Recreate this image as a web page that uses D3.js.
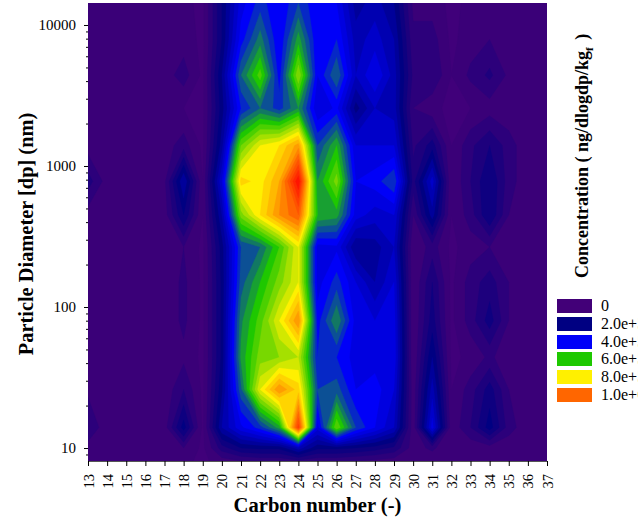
<!DOCTYPE html>
<html>
<head>
<meta charset="utf-8">
<script src="https://cdn.jsdelivr.net/npm/d3@7"></script>
<style>
  html, body { margin: 0; padding: 0; background: #fff; overflow: hidden; }
  text { font-family: "Liberation Serif", serif; fill: #000; }
</style>
</head>
<body>
<div id="viz"></div>
<script>
const carbonNumbers = d3.range(13, 38);
const diameters = [14300, 7900, 4400, 2570, 1400, 780, 450, 266, 150, 80, 44, 26, 14, 10, 8.1];

// concentration in units of 1e5, one row per diameter
const concentration = [
  [.5,.5,.5,.5,.5,.5,.3,2,3.8,4.6,4,4.8,4,4,2.6,3,2.4,.7,.6,.3,.5,.5,.5,.5,.5],
  [.5,.5,.5,.5,.5,.6,.3,2,4.2,5.4,4,5.8,4,4.4,3,3.4,2.8,.9,1,.3,.6,.8,.5,.5,.5],
  [.5,.5,.5,.5,.6,1,.3,2.4,5.2,6.6,4.2,7.2,4,5.2,3.2,4,3,1.1,1.2,.4,.9,1.3,.7,.5,.5],
  [.5,.5,.5,.5,.5,.4,.3,2.2,4.4,5.2,4.6,5.6,3.6,4.1,2.2,3.2,3,.8,.5,.3,.4,.6,.5,.5,.5],
  [.6,.5,.5,.5,.6,1,.3,2.6,6.8,8,8.4,9.4,4.8,6,3.6,3.6,3.6,1.1,1.8,.4,1.1,1.6,1,.5,.5],
  [1.4,.6,.5,.5,.7,2.8,.4,3.6,8.6,8.2,9.2,12,5.6,7,4,4.2,4.8,1.4,3.4,.4,1.2,2,1,.5,.5],
  [.6,.5,.5,.5,.6,2,.4,2.8,7,8.4,9.6,10.4,6,5.8,3.8,3.4,3.6,.8,2.6,.4,1,2,.8,.5,.5],
  [.5,.5,.5,.5,.5,.8,.3,2.2,4.8,5.2,6.4,8,3.8,3.9,2.4,2.6,3.2,.4,1,.3,.6,.8,.5,.5,.5],
  [.5,.5,.5,.5,.5,.9,.3,2.1,5,6,7,8,3.8,4.6,3.6,2.8,3.6,.4,1.6,.3,1,1.4,.8,.5,.5],
  [.5,.5,.5,.5,.5,.9,.3,2.1,5.5,6.6,8,9.6,4.2,5.6,3.8,3.6,3.8,.4,1.8,.3,1,1.8,.8,.5,.5],
  [.5,.5,.5,.5,.5,.7,.3,2.1,5.7,7,7.2,7.6,4.4,4.4,3.8,3.8,3.9,.4,2.4,.3,.5,.9,.5,.5,.5],
  [.7,.5,.5,.5,.5,1.2,.3,2.3,5.1,8,9.6,8.6,4.8,5,4,4.2,3.6,.5,3,.4,1,1.8,.8,.5,.5],
  [1.2,.5,.5,.5,.6,2.2,.3,2.8,3.9,4.6,5.8,11,3.8,6.8,4.8,4,3.2,.5,3.8,.5,1.2,2.2,1,.5,.5],
  [.6,.5,.5,.5,.5,.8,.3,1.4,2,2.1,2.1,3,2.1,2.1,2,1.8,1.5,.6,.9,.4,.5,.6,.5,.5,.5],
  [.5,.5,.5,.5,.5,.5,.3,.6,.8,.9,.9,1.1,.9,.9,.8,.7,.6,.4,.5,.4,.4,.4,.5,.5,.5]
];

const levels = d3.range(0, 12.01, 0.4);
const colorValues = [0, 0.4, 2, 4, 6, 8, 10, 12];
const colorStops = ["#40007a", "#3a0078", "#000082", "#0000f8", "#1ec800", "#fff000", "#ff6600", "#ff0000"];
const legendLabels = ["0", "2.0e+5", "4.0e+5", "6.0e+5", "8.0e+5", "1.0e+6"];
const legendColors = ["#420078", "#000082", "#0000f8", "#1ec800", "#fff000", "#ff6600"];
const legendTops = [299, 317, 335, 352, 370, 388];

const width = 638, height = 518;
const plot = { left: 88, right: 547, top: 3, bottom: 461 };

const svg = d3.select("#viz").append("svg")
  .attr("width", width)
  .attr("height", height)
  .style("display", "block");

const x = d3.scaleLinear().domain([13, 37]).range([plot.left, plot.right]);
const y = d3.scaleLog().domain([8.09, 14320]).range([plot.bottom, plot.top]);
const color = d3.scaleLinear().domain(colorValues).range(colorStops);

// grid index -> log diameter, rows are not quite evenly spaced
const rowLog = d3.scaleLinear().domain(d3.range(diameters.length)).range(diameters.map(d => Math.log10(d)));

svg.append("defs").append("clipPath").attr("id", "plotClip")
  .append("rect")
  .attr("x", plot.left).attr("y", plot.top)
  .attr("width", plot.right - plot.left).attr("height", plot.bottom - plot.top);

const contours = d3.contours()
  .size([carbonNumbers.length, diameters.length])
  .thresholds(levels)(concentration.flat());

const project = d3.geoTransform({
  point(cx, cy) {
    this.stream.point(x(carbonNumbers[0] + cx - 0.5), y(Math.pow(10, rowLog(cy - 0.5))));
  }
});
const path = d3.geoPath(project);

svg.append("g").attr("clip-path", "url(#plotClip)")
  .selectAll("path")
  .data(contours)
  .enter().append("path")
  .attr("d", path)
  .attr("fill", d => color(d.value))
  .attr("stroke", d => color(d.value))
  .attr("stroke-width", 0.3);

// axes
const xAxis = svg.append("g")
  .attr("transform", `translate(0,${plot.bottom})`)
  .call(d3.axisBottom(x).tickValues(carbonNumbers).tickFormat(d3.format("d")).tickSize(5).tickSizeOuter(0));
xAxis.select(".domain").attr("stroke", "#555");
xAxis.selectAll("text")
  .attr("transform", "rotate(-90)")
  .attr("x", -13).attr("y", 0).attr("dy", "0.35em")
  .attr("text-anchor", "end")
  .style("font-size", "14.5px")
  .style("font-family", '"Liberation Serif", serif');

const yTicks = [];
[1, 10, 100, 1000, 10000].forEach(p => {
  d3.range(1, 10).forEach(m => {
    const v = p * m;
    if (v >= 8.09 && v <= 14320) yTicks.push(v);
  });
});
const isMajor = v => [10, 100, 1000, 10000].includes(v);

const yAxis = svg.append("g")
  .attr("transform", `translate(${plot.left},0)`)
  .call(d3.axisLeft(y).tickValues(yTicks).tickFormat(v => isMajor(v) ? String(v) : "").tickSize(4).tickSizeOuter(0));
yAxis.select(".domain").remove();
yAxis.selectAll(".tick line").attr("x2", v => isMajor(v) ? -4 : -2);
yAxis.selectAll("text")
  .attr("x", -12)
  .style("font-size", "15px")
  .style("font-family", '"Liberation Serif", serif');

// titles
svg.append("text")
  .attr("x", 317.5).attr("y", 512)
  .attr("text-anchor", "middle")
  .style("font-size", "20.6px").style("font-weight", "bold")
  .text("Carbon number (-)");

svg.append("text")
  .attr("transform", "translate(33,234) rotate(-90)")
  .attr("text-anchor", "middle")
  .style("font-size", "20.4px").style("font-weight", "bold")
  .text("Particle Diameter [dp] (nm)");

const colorTitle = svg.append("text")
  .attr("transform", "translate(588,278) rotate(-90)")
  .style("font-size", "18px").style("font-weight", "bold");
colorTitle.append("tspan").text("Concentration ( ng/dlogdp/kg");
colorTitle.append("tspan").attr("dy", 5).style("font-size", "11px").text("f");
colorTitle.append("tspan").attr("dy", -5).attr("dx", 3).text(" )");

// legend
const legend = svg.append("g").selectAll("g")
  .data(legendLabels)
  .enter().append("g");

legend.append("rect")
  .attr("x", 557)
  .attr("y", (d, i) => legendTops[i])
  .attr("width", 35)
  .attr("height", 14)
  .attr("fill", (d, i) => legendColors[i]);

legend.append("text")
  .attr("x", 601)
  .attr("y", (d, i) => legendTops[i] + 12)
  .style("font-size", "16px")
  .text(d => d);
</script>
</body>
</html>
